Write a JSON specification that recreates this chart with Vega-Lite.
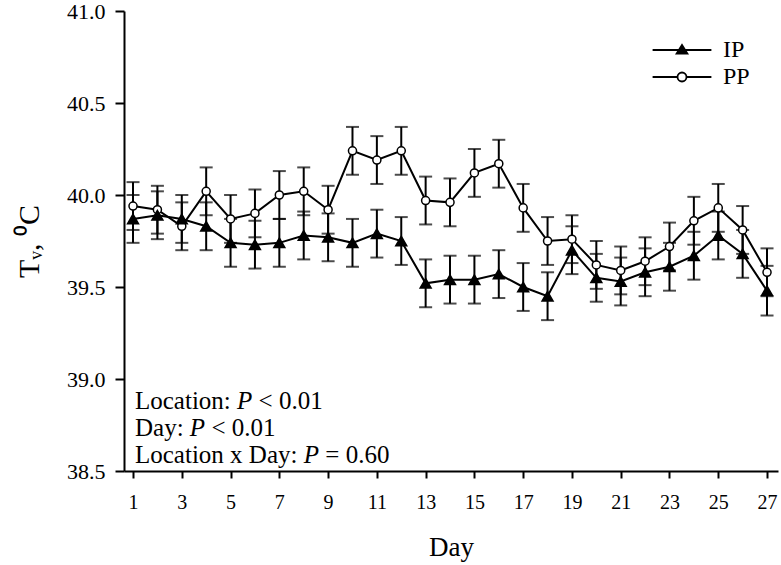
{
  "$schema": "https://vega.github.io/schema/vega-lite/v6.json",
  "width": 654,
  "height": 460,
  "autosize": "none",
  "padding": {"left": 124, "top": 11, "right": 3, "bottom": 94},
  "background": "white",
  "config": {
    "font": "Liberation Serif",
    "view": {"stroke": null},
    "axis": {
      "domainColor": "black", "domainWidth": 2, "tickColor": "black", "tickWidth": 2,
      "labelColor": "black", "titleColor": "black", "grid": false,
      "labelFont": "Liberation Serif", "titleFont": "Liberation Serif",
      "titleFontWeight": "normal", "labelFontWeight": "normal"
    }
  },
  "datasets": {
    "tv": [
    {"Day":1,"Location":"PP","Tv":39.94,"SE":0.13},
    {"Day":2,"Location":"PP","Tv":39.92,"SE":0.13},
    {"Day":3,"Location":"PP","Tv":39.83,"SE":0.13},
    {"Day":4,"Location":"PP","Tv":40.02,"SE":0.13},
    {"Day":5,"Location":"PP","Tv":39.87,"SE":0.13},
    {"Day":6,"Location":"PP","Tv":39.90,"SE":0.13},
    {"Day":7,"Location":"PP","Tv":40.00,"SE":0.13},
    {"Day":8,"Location":"PP","Tv":40.02,"SE":0.13},
    {"Day":9,"Location":"PP","Tv":39.92,"SE":0.13},
    {"Day":10,"Location":"PP","Tv":40.24,"SE":0.13},
    {"Day":11,"Location":"PP","Tv":40.19,"SE":0.13},
    {"Day":12,"Location":"PP","Tv":40.24,"SE":0.13},
    {"Day":13,"Location":"PP","Tv":39.97,"SE":0.13},
    {"Day":14,"Location":"PP","Tv":39.96,"SE":0.13},
    {"Day":15,"Location":"PP","Tv":40.12,"SE":0.13},
    {"Day":16,"Location":"PP","Tv":40.17,"SE":0.13},
    {"Day":17,"Location":"PP","Tv":39.93,"SE":0.13},
    {"Day":18,"Location":"PP","Tv":39.75,"SE":0.13},
    {"Day":19,"Location":"PP","Tv":39.76,"SE":0.13},
    {"Day":20,"Location":"PP","Tv":39.62,"SE":0.13},
    {"Day":21,"Location":"PP","Tv":39.59,"SE":0.13},
    {"Day":22,"Location":"PP","Tv":39.64,"SE":0.13},
    {"Day":23,"Location":"PP","Tv":39.72,"SE":0.13},
    {"Day":24,"Location":"PP","Tv":39.86,"SE":0.13},
    {"Day":25,"Location":"PP","Tv":39.93,"SE":0.13},
    {"Day":26,"Location":"PP","Tv":39.81,"SE":0.13},
    {"Day":27,"Location":"PP","Tv":39.58,"SE":0.13},
    {"Day":1,"Location":"IP","Tv":39.87,"SE":0.13},
    {"Day":2,"Location":"IP","Tv":39.89,"SE":0.13},
    {"Day":3,"Location":"IP","Tv":39.87,"SE":0.13},
    {"Day":4,"Location":"IP","Tv":39.83,"SE":0.13},
    {"Day":5,"Location":"IP","Tv":39.74,"SE":0.13},
    {"Day":6,"Location":"IP","Tv":39.73,"SE":0.13},
    {"Day":7,"Location":"IP","Tv":39.74,"SE":0.13},
    {"Day":8,"Location":"IP","Tv":39.78,"SE":0.13},
    {"Day":9,"Location":"IP","Tv":39.77,"SE":0.13},
    {"Day":10,"Location":"IP","Tv":39.74,"SE":0.13},
    {"Day":11,"Location":"IP","Tv":39.79,"SE":0.13},
    {"Day":12,"Location":"IP","Tv":39.75,"SE":0.13},
    {"Day":13,"Location":"IP","Tv":39.52,"SE":0.13},
    {"Day":14,"Location":"IP","Tv":39.54,"SE":0.13},
    {"Day":15,"Location":"IP","Tv":39.54,"SE":0.13},
    {"Day":16,"Location":"IP","Tv":39.57,"SE":0.13},
    {"Day":17,"Location":"IP","Tv":39.50,"SE":0.13},
    {"Day":18,"Location":"IP","Tv":39.45,"SE":0.13},
    {"Day":19,"Location":"IP","Tv":39.70,"SE":0.13},
    {"Day":20,"Location":"IP","Tv":39.55,"SE":0.13},
    {"Day":21,"Location":"IP","Tv":39.53,"SE":0.13},
    {"Day":22,"Location":"IP","Tv":39.58,"SE":0.13},
    {"Day":23,"Location":"IP","Tv":39.61,"SE":0.13},
    {"Day":24,"Location":"IP","Tv":39.67,"SE":0.13},
    {"Day":25,"Location":"IP","Tv":39.78,"SE":0.13},
    {"Day":26,"Location":"IP","Tv":39.68,"SE":0.13},
    {"Day":27,"Location":"IP","Tv":39.48,"SE":0.135}
    ],
    "notes": [
      {"line": 1, "term": "Location: ", "p": "P", "stat": "< 0.01"},
      {"line": 2, "term": "Day: ", "p": "P", "stat": "< 0.01"},
      {"line": 3, "term": "Location x Day: ", "p": "P", "stat": "= 0.60"}
    ]
  },
  "layer": [
    {
      "data": {"name": "tv"},
      "encoding": {
        "x": {"field": "Day", "type": "quantitative",
          "scale": {"domain": [0.63, 27.45], "nice": false, "zero": false},
          "axis": {
            "title": "Day", "titleFontSize": 27, "titlePadding": 22,
            "values": [1,2,3,4,5,6,7,8,9,10,11,12,13,14,15,16,17,18,19,20,21,22,23,24,25,26,27],
            "labelExpr": "datum.value % 2 === 1 ? datum.label : ''",
            "labelFontSize": 20, "labelPadding": 14, "labelFlush": false,
            "tickSize": {"condition": {"test": "datum.value % 2 === 1", "value": 7}, "value": 4}
          }},
        "y": {"field": "Tv", "type": "quantitative",
          "scale": {"domain": [38.5, 41], "nice": false, "zero": false},
          "axis": {
            "title": "Tᵥ, ⁰C", "titleFontSize": 30, "titlePadding": 22, "titleColor": "black",
            "values": [38.5, 39, 39.5, 40, 40.5, 41], "format": ".1f",
            "labelFontSize": 22, "tickSize": 9, "labelPadding": 10
          }}
      },
      "layer": [
        {
          "mark": {"type": "errorbar", "color": "black", "thickness": 2,
            "ticks": {"size": 13, "thickness": 2, "color": "black"}},
          "encoding": {"yError": {"field": "SE"}}
        },
        {
          "mark": {"type": "line", "color": "black", "strokeWidth": 2},
          "encoding": {"detail": {"field": "Location", "type": "nominal"}}
        },
        {
          "transform": [{"filter": "datum.Location === 'PP'"}],
          "mark": {"type": "point", "shape": "circle", "fill": "white", "stroke": "black", "strokeWidth": 1.5, "opacity": 1, "size": 65},
          "encoding": {}
        },
        {
          "transform": [{"filter": "datum.Location === 'IP'"}],
          "mark": {"type": "point", "shape": "triangle-up", "fill": "black", "stroke": "black", "strokeWidth": 1.5, "opacity": 1, "size": 120},
          "encoding": {}
        },
        {
          "transform": [{"filter": "false"}],
          "mark": {"type": "point", "filled": true, "strokeWidth": 1.8, "opacity": 1},
          "encoding": {
            "fill": {"field": "Location", "type": "nominal",
              "scale": {"domain": ["IP", "PP"], "range": ["black", "white"]},
              "legend": {"title": null}},
            "stroke": {"field": "Location", "type": "nominal",
              "scale": {"domain": ["IP", "PP"], "range": ["black", "black"]},
              "legend": {"title": null}},
            "shape": {"field": "Location", "type": "nominal",
              "scale": {"domain": ["IP", "PP"], "range": ["M-4.9,0H4.9M0,-0.85L0.9,0.6L-0.9,0.6Z", "M-4.9,0H-0.75M0.75,0H4.9M-0.75,0A0.75,0.75,0,1,0,0.75,0A0.75,0.75,0,1,0,-0.75,0Z"]},
              "legend": {
                "title": null, "orient": "none", "legendX": 546, "legendY": 27,
                "labelFont": "Liberation Serif", "labelFontSize": 24, "labelColor": "black",
                "labelOffset": 29, "symbolSize": 144, "rowPadding": 3, "padding": 0,
                "symbolStrokeColor": "black", "symbolStrokeWidth": 1.8, "symbolOpacity": 1
              }}
          }
        }
      ]
    },
    {
      "data": {"name": "notes"}, "transform": [{"filter": "datum.line === 1"}],
      "layer": [
        {"mark": {"type": "text", "align": "left", "baseline": "alphabetic", "fontSize": 25, "font": "Liberation Serif", "color": "black"},
         "encoding": {"x": {"datum": 1.081}, "y": {"datum": 38.837}, "text": {"field": "term", "type": "nominal"}}},
        {"mark": {"type": "text", "align": "left", "baseline": "alphabetic", "fontSize": 25, "font": "Liberation Serif", "fontStyle": "italic", "color": "black", "dx": 102.1},
         "encoding": {"x": {"datum": 1.081}, "y": {"datum": 38.837}, "text": {"field": "p", "type": "nominal"}}},
        {"mark": {"type": "text", "align": "left", "baseline": "alphabetic", "fontSize": 25, "font": "Liberation Serif", "color": "black", "dx": 123.6},
         "encoding": {"x": {"datum": 1.081}, "y": {"datum": 38.837}, "text": {"field": "stat", "type": "nominal"}}}
      ]
    },
    {
      "data": {"name": "notes"}, "transform": [{"filter": "datum.line === 2"}],
      "layer": [
        {"mark": {"type": "text", "align": "left", "baseline": "alphabetic", "fontSize": 25, "font": "Liberation Serif", "color": "black"},
         "encoding": {"x": {"datum": 1.081}, "y": {"datum": 38.69}, "text": {"field": "term", "type": "nominal"}}},
        {"mark": {"type": "text", "align": "left", "baseline": "alphabetic", "fontSize": 25, "font": "Liberation Serif", "fontStyle": "italic", "color": "black", "dx": 54.85},
         "encoding": {"x": {"datum": 1.081}, "y": {"datum": 38.69}, "text": {"field": "p", "type": "nominal"}}},
        {"mark": {"type": "text", "align": "left", "baseline": "alphabetic", "fontSize": 25, "font": "Liberation Serif", "color": "black", "dx": 76.4},
         "encoding": {"x": {"datum": 1.081}, "y": {"datum": 38.69}, "text": {"field": "stat", "type": "nominal"}}}
      ]
    },
    {
      "data": {"name": "notes"}, "transform": [{"filter": "datum.line === 3"}],
      "layer": [
        {"mark": {"type": "text", "align": "left", "baseline": "alphabetic", "fontSize": 25, "font": "Liberation Serif", "color": "black"},
         "encoding": {"x": {"datum": 1.081}, "y": {"datum": 38.543}, "text": {"field": "term", "type": "nominal"}}},
        {"mark": {"type": "text", "align": "left", "baseline": "alphabetic", "fontSize": 25, "font": "Liberation Serif", "fontStyle": "italic", "color": "black", "dx": 168.7},
         "encoding": {"x": {"datum": 1.081}, "y": {"datum": 38.543}, "text": {"field": "p", "type": "nominal"}}},
        {"mark": {"type": "text", "align": "left", "baseline": "alphabetic", "fontSize": 25, "font": "Liberation Serif", "color": "black", "dx": 190.3},
         "encoding": {"x": {"datum": 1.081}, "y": {"datum": 38.543}, "text": {"field": "stat", "type": "nominal"}}}
      ]
    }
  ]
}
